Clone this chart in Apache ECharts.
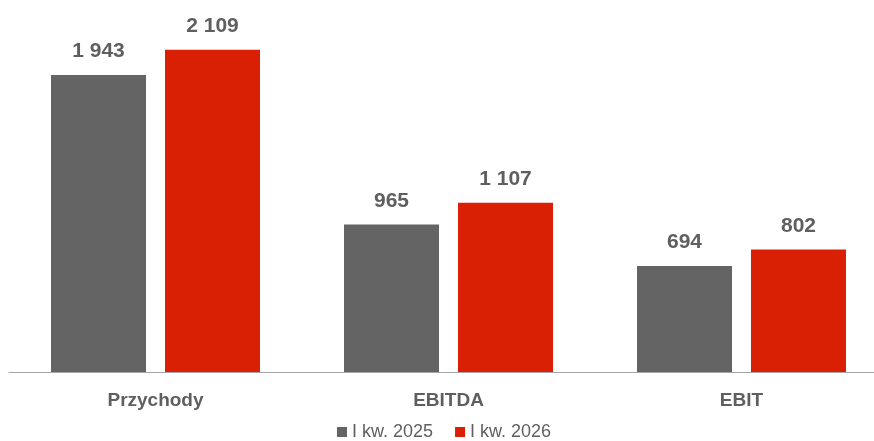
<!DOCTYPE html>
<html>
<head>
<meta charset="utf-8">
<script src="https://cdn.jsdelivr.net/npm/echarts@6/dist/echarts.min.js"></script>
<style>
  html, body { margin: 0; padding: 0; background: #fff; }
  #main { width: 874px; height: 441px; }
</style>
</head>
<body>
<div id="main"></div>
<script>
// dane
var categories = ['Przychody', 'EBITDA', 'EBIT'];
var seriesNames = ['I kw. 2025', 'I kw. 2026'];
var values2025 = [1943, 965, 694];
var values2026 = [2109, 1107, 802];

var FONT = "'Liberation Sans Narrow', 'Arial Narrow', 'Liberation Sans', Arial, sans-serif";
var TXT = '#5f5f5f';

function fmt(v) {
    // spacja jako separator tysięcy
    return String(v).replace(/\B(?=(\d{3})+(?!\d))/g, ' ');
}

function valueLabel() {
    return {
        show: true,
        position: 'top',
        distance: 13,
        fontFamily: FONT,
        fontSize: 21,
        fontWeight: 'bold',
        color: TXT,
        formatter: function (p) { return fmt(p.value); }
    };
}

var myChart = echarts.init(document.getElementById('main'));
myChart.setOption({
    animation: false,
    grid: { left: 9, width: 879, top: 10, bottom: 69, outerBoundsMode: 'none', containLabel: false },
    legend: {
        left: 337,
        top: 423,
        padding: 0,
        itemWidth: 10,
        itemHeight: 10,
        itemGap: 22,
        icon: 'rect',
        textStyle: { fontFamily: FONT, fontSize: 18, color: TXT },
        data: seriesNames
    },
    xAxis: {
        type: 'category',
        data: categories,
        axisLine: { lineStyle: { color: '#a6a6a6', width: 1 } },
        axisTick: { show: false },
        axisLabel: {
            margin: 19,
            fontFamily: FONT,
            fontSize: 19,
            fontWeight: 'bold',
            color: TXT
        }
    },
    yAxis: {
        type: 'value',
        min: 0,
        max: 2369,
        show: false,
        splitLine: { show: false }
    },
    series: [{
        name: seriesNames[0],
        type: 'bar',
        data: values2025,
        barWidth: 95,
        barGap: '20%',
        itemStyle: { color: '#646464' },
        label: valueLabel()
    }, {
        name: seriesNames[1],
        type: 'bar',
        data: values2026,
        barWidth: 95,
        barGap: '20%',
        itemStyle: { color: '#d91f04' },
        label: valueLabel()
    }]
});
</script>
</body>
</html>
